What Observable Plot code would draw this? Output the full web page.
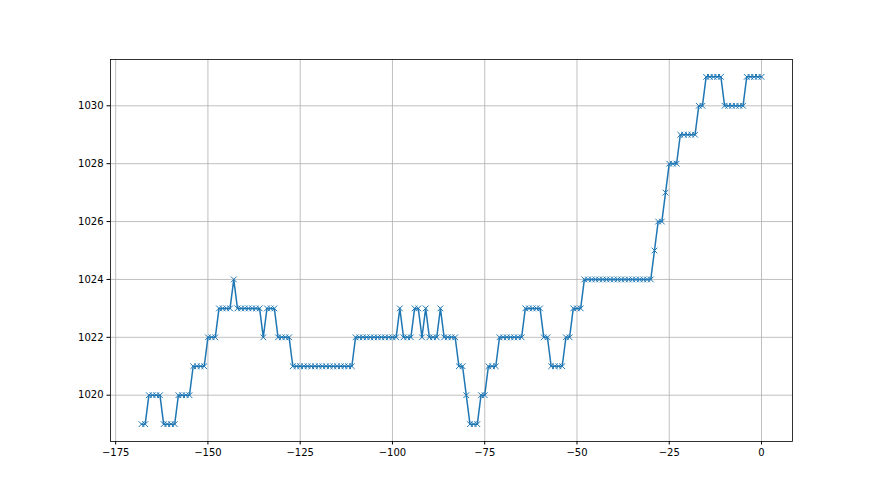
<!DOCTYPE html>
<html><head><meta charset="utf-8">
<script src="https://cdn.jsdelivr.net/npm/d3@7"></script>
<script src="https://cdn.jsdelivr.net/npm/@observablehq/plot@0.6"></script>
<style>body{margin:0;background:#fff}</style>
</head><body><div id="chart"></div>
<script>
const hours = [
-168,-167,-166,-165,-164,-163,-162,-161,-160,-159,-158,-157,-156,-155,-154,-153,-152,-151,-150,-149,
-148,-147,-146,-145,-144,-143,-142,-141,-140,-139,-138,-137,-136,-135,-134,-133,-132,-131,-130,-129,
-128,-127,-126,-125,-124,-123,-122,-121,-120,-119,-118,-117,-116,-115,-114,-113,-112,-111,-110,-109,
-108,-107,-106,-105,-104,-103,-102,-101,-100,-99,-98,-97,-96,-95,-94,-93,-92,-91,-90,-89,
-88,-87,-86,-85,-84,-83,-82,-81,-80,-79,-78,-77,-76,-75,-74,-73,-72,-71,-70,-69,
-68,-67,-66,-65,-64,-63,-62,-61,-60,-59,-58,-57,-56,-55,-54,-53,-52,-51,-50,-49,
-48,-47,-46,-45,-44,-43,-42,-41,-40,-39,-38,-37,-36,-35,-34,-33,-32,-31,-30,-29,
-28,-27,-26,-25,-24,-23,-22,-21,-20,-19,-18,-17,-16,-15,-14,-13,-12,-11,-10,-9,
-8,-7,-6,-5,-4,-3,-2,-1,0];
const pressure = [
1019,1019,1020,1020,1020,1020,1019,1019,1019,1019,1020,1020,1020,1020,1021,1021,1021,1021,1022,1022,
1022,1023,1023,1023,1023,1024,1023,1023,1023,1023,1023,1023,1023,1022,1023,1023,1023,1022,1022,1022,
1022,1021,1021,1021,1021,1021,1021,1021,1021,1021,1021,1021,1021,1021,1021,1021,1021,1021,1022,1022,
1022,1022,1022,1022,1022,1022,1022,1022,1022,1022,1023,1022,1022,1022,1023,1023,1022,1023,1022,1022,
1022,1023,1022,1022,1022,1022,1021,1021,1020,1019,1019,1019,1020,1020,1021,1021,1021,1022,1022,1022,
1022,1022,1022,1022,1023,1023,1023,1023,1023,1022,1022,1021,1021,1021,1021,1022,1022,1023,1023,1023,
1024,1024,1024,1024,1024,1024,1024,1024,1024,1024,1024,1024,1024,1024,1024,1024,1024,1024,1024,1025,
1026,1026,1027,1028,1028,1028,1029,1029,1029,1029,1029,1030,1030,1031,1031,1031,1031,1031,1030,1030,
1030,1030,1030,1030,1031,1031,1031,1031,1031];
const xTicks = [-175,-150,-125,-100,-75,-50,-25,0];
const yTicks = [1020,1022,1024,1026,1028,1030];

const data = hours.map((h, i) => ({h, p: pressure[i]}));
const fmt = d3.format("d");
const chart = Plot.plot({
  width: 880, height: 495,
  marginLeft: 110, marginRight: 88, marginTop: 59, marginBottom: 54,
  style: {fontFamily: "DejaVu Sans", fontSize: "10px", color: "black", background: "white"},
  x: {domain: [-176.4, 8.4], label: null},
  y: {domain: [1018.4, 1031.6], label: null},
  marks: [
    Plot.gridX(xTicks, {stroke: "#b0b0b0", strokeOpacity: 1, strokeWidth: 0.8}),
    Plot.gridY(yTicks, {stroke: "#b0b0b0", strokeOpacity: 1, strokeWidth: 0.8}),
    Plot.line(data, {x: "h", y: "p", stroke: "#1f77b4", strokeWidth: 1.5}),
    Plot.dot(data, {x: "h", y: "p", symbol: "times", stroke: "#1f77b4", r: 2.7, strokeWidth: 1}),
    Plot.frame({stroke: "black", strokeWidth: 0.8}),
    Plot.axisX(xTicks, {tickSize: 3.5, tickPadding: 3.5, label: null, tickFormat: fmt}),
    Plot.axisY(yTicks, {tickSize: 3.5, tickPadding: 3.5, label: null, tickFormat: fmt})
  ]
});
document.getElementById("chart").append(chart);
</script>
</body></html>
